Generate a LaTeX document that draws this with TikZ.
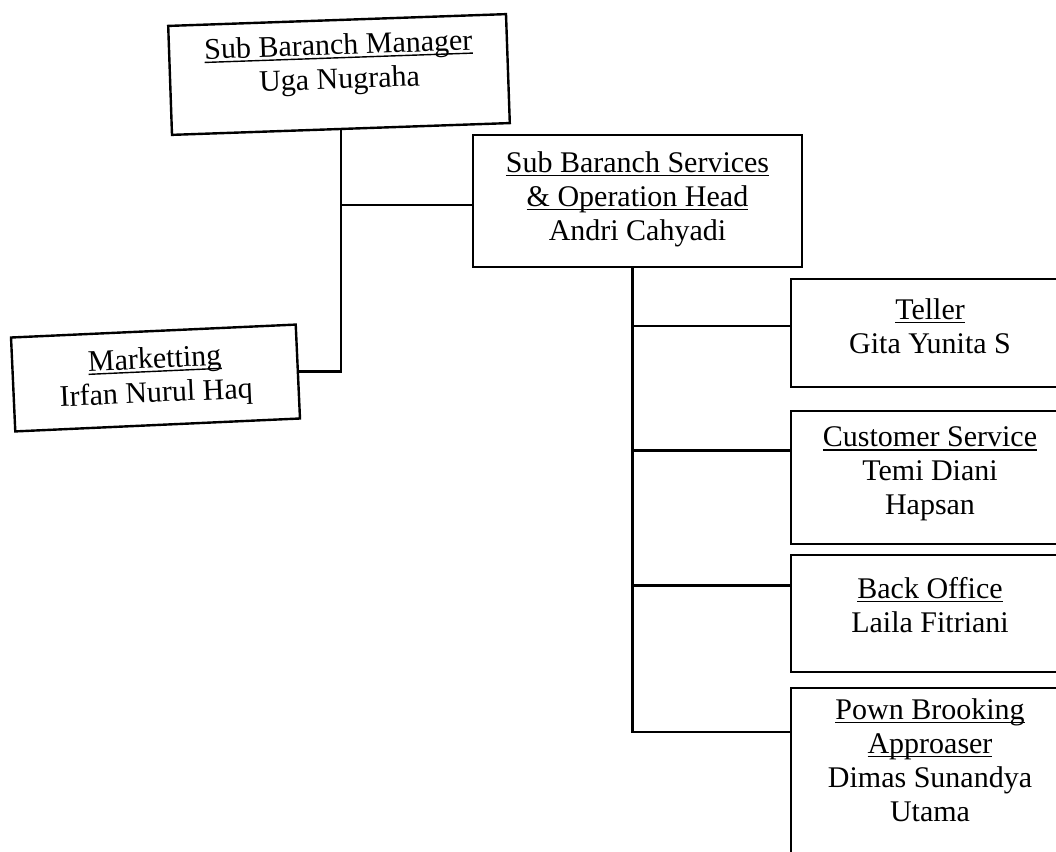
\documentclass[tikz,border=0pt]{standalone}
\usepackage{fontspec}
\setmainfont{Liberation Serif}
\usetikzlibrary{positioning}
\newcommand{\ulin}[1]{\setbox0\hbox{#1}\rlap{\rule[-3.8pt]{\wd0}{1.4pt}}\box0}

\tikzset{
	box/.style={draw, line width=2.4pt, inner sep=0pt},
	txt/.style={align=center, inner sep=0pt},
	link/.style={line width=2.2pt},
}

\begin{document}
\begin{tikzpicture}[x=1pt, y=-1pt, font=\fontsize{30}{34}\selectfont]
			%%%%% FRAME %%%%%
			\useasboundingbox (0,0) rectangle (1056,851);
			
			%%%%% BOXES %%%%%
			\node[box, minimum width=338pt, minimum height=109pt, rotate=2] (mgr) at (339, 74.5) {};
			\node[box, minimum width=329pt, minimum height=132pt] (svc) at (637.5, 201) {};
			\node[box, minimum width=285pt, minimum height=94pt, rotate=2.6] (mkt) at (155.5, 378) {};
			
			\node[box, minimum width=278pt, minimum height=108pt] (tel) at (930, 333) {};
			\node[box, minimum width=278pt, minimum height=133pt] (cs) at (930, 477.5) {};
			\node[box, minimum width=278pt, minimum height=117pt] (bo) at (930, 613.5) {};
			\node[box, minimum width=278pt, minimum height=182pt] (pwn) at (930, 779) {};
			
			%%%%% TEXTS %%%%%
			\node[txt, rotate=2] (mgrtxt) at ([yshift=10pt]mgr.center) {\ulin{Sub Baranch Manager}\\Uga Nugraha};
			\node[txt] (svctxt) at ([yshift=2pt]svc.center) {\ulin{Sub Baranch Services}\\\ulin{\& Operation Head}\\Andri Cahyadi};
			\node[txt, rotate=2.6] (mkttxt) at (mkt.center) {\ulin{Marketting}\\Irfan Nurul Haq};
			
			\node[txt] (teltxt) at ([yshift=7pt]tel.center) {\ulin{Teller}\\Gita Yunita S};
			\node[txt] (cstxt) at ([yshift=3.5pt]cs.center) {\ulin{Customer Service}\\Temi Diani\\Hapsan};
			\node[txt] (botxt) at ([yshift=8.5pt]bo.center) {\ulin{Back Office}\\Laila Fitriani};
			\node[txt] (pwntxt) at ([yshift=19pt]pwn.center) {\ulin{Pown Brooking}\\\ulin{Approaser}\\Dimas Sunandya\\Utama};
			
			%%%%% LINKS %%%%%
			\coordinate (svcin) at ([yshift=-4pt]svc.west);
			\coordinate (spine) at ([xshift=-5pt]svc.south);
			\coordinate (telin) at ([yshift=7pt]tel.west);
			\coordinate (csin) at ([yshift=27pt]cs.west);
			\coordinate (boin) at ([yshift=28pt]bo.west);
			\coordinate (pwnin) at ([yshift=47pt]pwn.west);
			
			\draw[link] (mgr.south) |- (mkt.east);
			\draw[link] (mgr.south |- svcin) -- (svcin);
			
			\draw[link] (spine) |- (pwnin);
			\draw[link] (spine |- telin) -- (telin);
			\draw[link] (spine |- csin) -- (csin);
			\draw[link] (spine |- boin) -- (boin);
			
			%%%%% END %%%%%
\end{tikzpicture}
\end{document}
